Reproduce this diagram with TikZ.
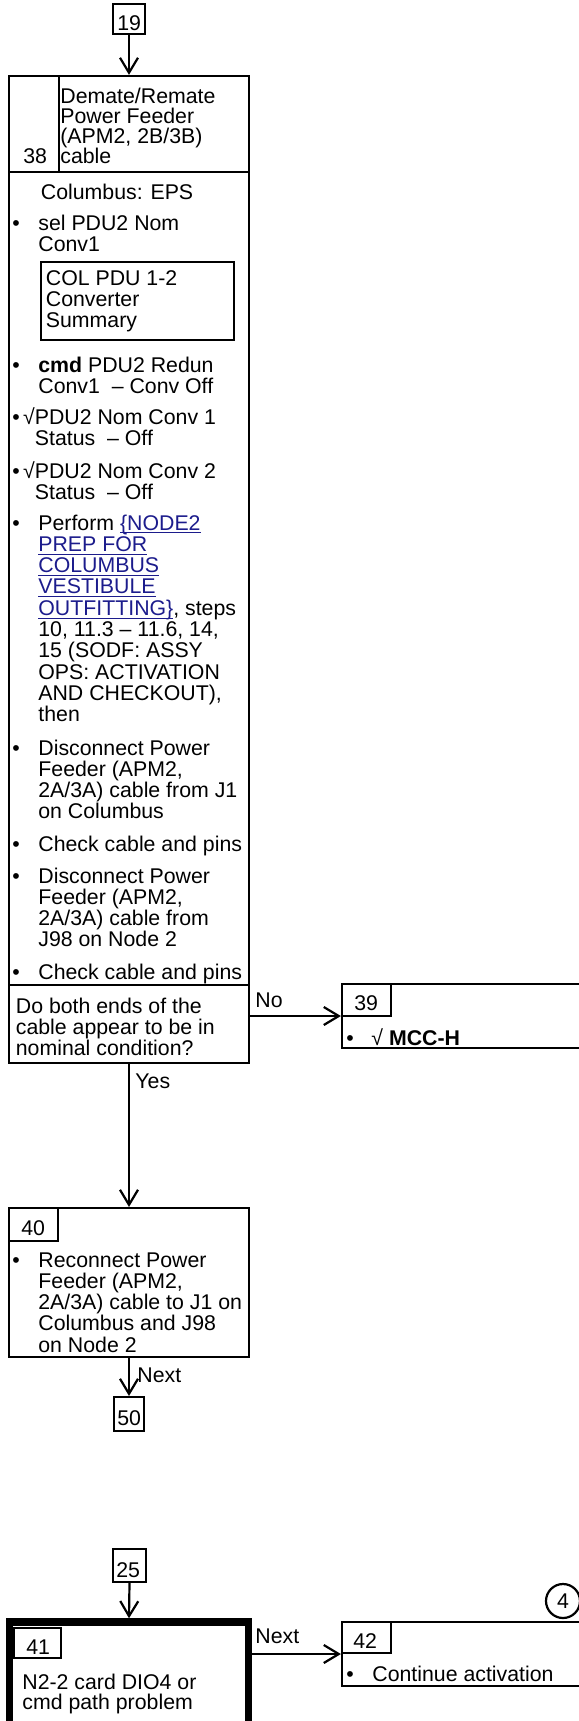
\documentclass[tikz,border=0pt]{standalone}
\usepackage{fontspec}
\setmainfont{Liberation Sans}
\usepackage{xcolor}
\usetikzlibrary{arrows.meta,fit}
\newcommand\bodysize{\fontsize{10.65}{10.65}\selectfont}
\newcommand\headsize{\fontsize{10.65}{10}\selectfont}
\newsavebox\lnkbox
\newcommand\lnk[1]{\sbox\lnkbox{#1}\textcolor{clink}{\rlap{\rule[-1.7pt]{\wd\lnkbox}{0.5pt}}#1}}

\begin{document}
\begin{tikzpicture}[x=0.5pt,y=-0.5pt,
  lw/.style={line width=1.1pt},
  box/.style={draw,line width=1.1pt,inner sep=0pt},
  heavybox/.style={draw,line width=3.75pt,inner sep=0pt},
  txt/.style={anchor=base west,inner sep=0pt,align=left,font=\bodysize},
  hdr/.style={anchor=base west,inner sep=0pt,align=left,font=\headsize},
  bul/.style={anchor=base west,inner sep=0pt,font=\bodysize},
  flow/.style={line width=1.1pt,-{Straight Barb[length=7.5pt,width=9pt]}}]
\definecolor{clink}{RGB}{28,28,140}
\useasboundingbox (0,0) rectangle (579,1721);
\node[box,fit={(113,4)(145,34)}] (n19) {};
\node[txt] at (117,30) {19};
\node[box,fit={(9,76)(249,1063)}] (s38) {};
\draw[lw] (59,76) -- (59,172);
\draw[lw] (9,172) -- (249,172);
\draw[lw] (9,985) -- (249,985);
\node[txt] at (23,163) {38};
\node[hdr] at (60,163) {Demate/Remate\\Power Feeder\\(APM2, 2B/3B)\\cable};
\node[txt] at (40.5,199) {Columbus: EPS};
\node[bul] at (12,230) {•};
\node[txt] at (38,251.3) {sel PDU2 Nom\\Conv1};
\draw[lw] (41,262) rectangle (234,340);
\node[txt] at (45.5,327.6) {COL PDU 1-2\\Converter\\Summary};
\node[bul] at (12,372) {•};
\node[txt] at (38,393.3) {\textbf{cmd} PDU2 Redun\\Conv1~~– Conv Off};
\node[bul] at (12,424) {•};
\node[txt] at (34.5,445.3) {\llap{√}PDU2 Nom Conv 1\\Status~~– Off};
\node[bul] at (12,478) {•};
\node[txt] at (34.5,499.3) {\llap{√}PDU2 Nom Conv 2\\Status~~– Off};
\node[bul] at (12,530) {•};
\node[txt] at (38,721.7) {Perform \lnk{\{NODE2}\\\lnk{PREP FOR}\\\lnk{COLUMBUS}\\\lnk{VESTIBULE}\\\lnk{OUTFITTING\}}, steps\\10, 11.3 – 11.6, 14,\\15 (SODF: ASSY\\OPS: ACTIVATION\\AND CHECKOUT),\\then};
\node[bul] at (12,755) {•};
\node[txt] at (38,818.9) {Disconnect Power\\Feeder (APM2,\\2A/3A) cable from J1\\on Columbus};
\node[bul] at (12,851) {•};
\node[txt] at (38,851) {Check cable and pins};
\node[bul] at (12,883) {•};
\node[txt] at (38,946.9) {Disconnect Power\\Feeder (APM2,\\2A/3A) cable from\\J98 on Node 2};
\node[bul] at (12,979) {•};
\node[txt] at (38,979) {Check cable and pins};
\node[txt] at (15.5,1055.6) {Do both ends of the\\cable appear to be in\\nominal condition?};
\node[box,fit={(342,984)(600,1048)}] (s39) {};
\draw[lw] (342,1016) -| (391,984);
\node[txt] at (354,1010) {39};
\node[bul] at (346,1045) {•};
\node[txt] at (371,1045) {√ \textbf{MCC-H}};
\node[box,fit={(9,1208)(249,1357)}] (s40) {};
\draw[lw] (9,1241) -| (58,1208);
\node[txt] at (21,1235) {40};
\node[bul] at (12,1267) {•};
\node[txt] at (38,1352.2) {Reconnect Power\\Feeder (APM2,\\2A/3A) cable to J1 on\\Columbus and J98\\on Node 2};
\node[box,fit={(114,1397)(144,1431)}] (n50) {};
\node[txt] at (117,1425) {50};
\node[box,fit={(113,1549)(146,1582)}] (n25) {};
\node[txt] at (116,1577) {25};
\node[heavybox,fit={(9.5,1622)(248.5,1770)}] (s41) {};
\draw[lw] (14,1628) rectangle (61,1658);
\node[txt] at (26,1654) {41};
\node[hdr] at (22,1709) {N2-2 card DIO4 or\\cmd path problem};
\node[box,fit={(342,1622)(600,1686)}] (s42) {};
\draw[lw] (342,1653) -| (391,1622);
\node[txt] at (353,1648) {42};
\node[bul] at (346,1681) {•};
\node[txt] at (372,1681) {Continue activation};
\node[draw,circle,line width=1.1pt,minimum size=17pt,inner sep=0pt,font=\bodysize] (c4) at (563,1601) {4};
\draw[flow] (n19.south) -- (s38.north);
\draw[flow] (s38.east |- s39.west) -- (s39.west);
\node[txt] at (255,1007) {No};
\draw[flow] (s38.south) -- (s40.north);
\node[txt] at (135,1088) {Yes};
\draw[flow] (s40.south) -- (n50.north);
\node[txt] at (137,1382) {Next};
\draw[flow] (n25.south) -- (s41.north);
\draw[flow] (s41.east |- s42.west) -- (s42.west);
\node[txt] at (255,1643) {Next};
\end{tikzpicture}
\end{document}
